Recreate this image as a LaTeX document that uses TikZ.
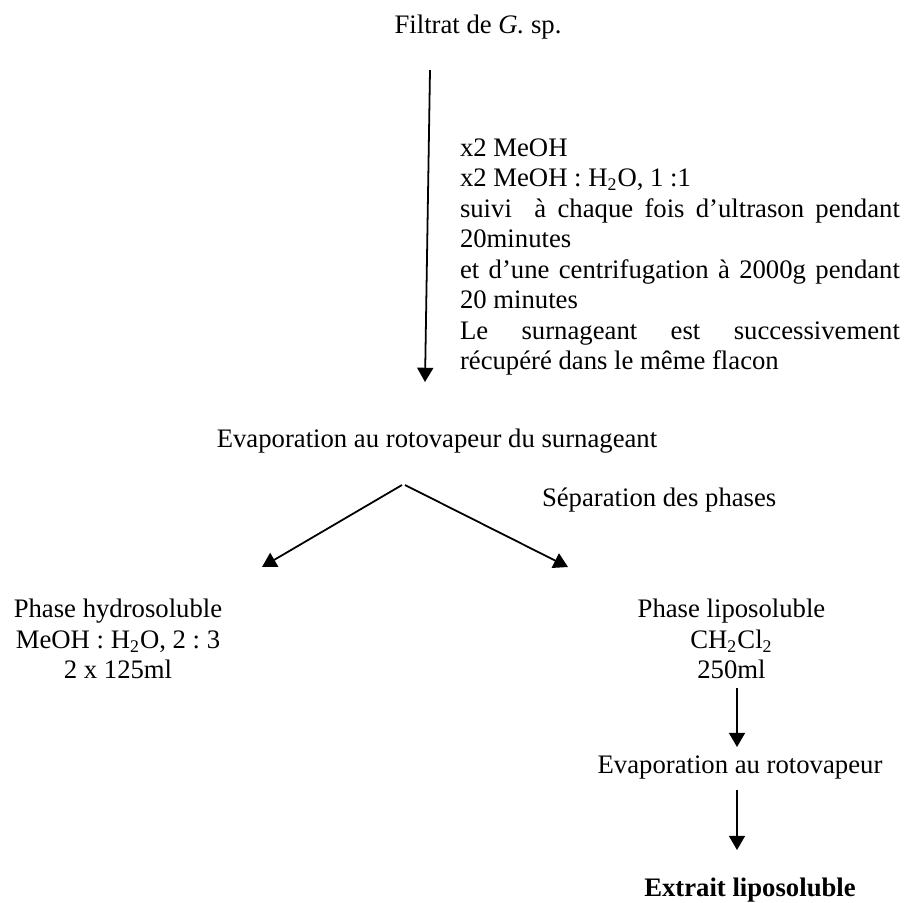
\documentclass[tikz,border=0pt]{standalone}
\usepackage{fontspec}
\setmainfont{Liberation Serif}
\usetikzlibrary{arrows.meta}
\frenchspacing
\tikzset{
  txt/.style={inner sep=0pt, outer sep=0pt, font=\fontsize{12}{13.7}\selectfont},
  ctext/.style={txt, anchor=base},
  ltext/.style={txt, anchor=base west},
  flow/.style={line width=0.8pt, -{Triangle[width=7.2pt,length=6.4pt]}}
}
\newcommand{\jline}[1]{\makebox[197.7pt][s]{#1}}
\begin{document}
\begin{tikzpicture}[x=0.4494pt, y=-0.4494pt]
\useasboundingbox (0,0) rectangle (904,902);
% title
\node[ctext] (title) at (478,33) {Filtrat de \textit{G.} sp.};
% main arrow
\coordinate (a0s) at (430,70);
\coordinate (a0e) at (425,382);
\draw[flow] (a0s) -- (a0e);
% procedure text
\node[ltext] (p1) at (460,156) {x2 MeOH};
\node[ltext] (p2) at (460,186.5) {x2 MeOH : H\textsubscript{2}O, 1 :1};
\node[ltext] (p3) at (460,217) {\jline{suivi\ \ à chaque fois d’ultrason pendant}};
\node[ltext] (p4) at (460,247.5) {20minutes};
\node[ltext] (p5) at (460,278) {\jline{et d’une centrifugation à 2000g pendant}};
\node[ltext] (p6) at (460,308.5) {20 minutes};
\node[ltext] (p7) at (460,339) {\jline{Le surnageant est successivement}};
\node[ltext] (p8) at (460,369.5) {récupéré dans le même flacon};
% evaporation
\node[ctext] (evap) at (437,447) {Evaporation au rotovapeur du surnageant};
\coordinate (vl) at (402,485);
\coordinate (vr) at (405,485);
\coordinate (tl) at (262,567);
\coordinate (tr) at (568,567);
\draw[flow] (vl) -- (tl);
\draw[flow] (vr) -- (tr);
\node[ltext] (sep) at (542,506) {Séparation des phases};
% left block
\node[ctext] (h1) at (118,617) {Phase hydrosoluble};
\node[ctext] (h2) at (118,648) {MeOH : H\textsubscript{2}O, 2 : 3};
\node[ctext] (h3) at (118,678) {2 x 125ml};
% right block
\node[ctext] (l1) at (731.5,617) {Phase liposoluble};
\node[ctext] (l2) at (731.5,648) {CH\textsubscript{2}Cl\textsubscript{2}};
\node[ctext] (l3) at (731.5,678) {250ml};
\coordinate (b1s) at (737,688);
\coordinate (b1e) at (737,747);
\draw[flow] (b1s) -- (b1e);
\node[ctext] (evap2) at (740,773) {Evaporation au rotovapeur};
\coordinate (b2s) at (737,790);
\coordinate (b2e) at (737,850);
\draw[flow] (b2s) -- (b2e);
\node[ctext] (ext) at (750,896) {\bfseries Extrait liposoluble};
\end{tikzpicture}
\end{document}
